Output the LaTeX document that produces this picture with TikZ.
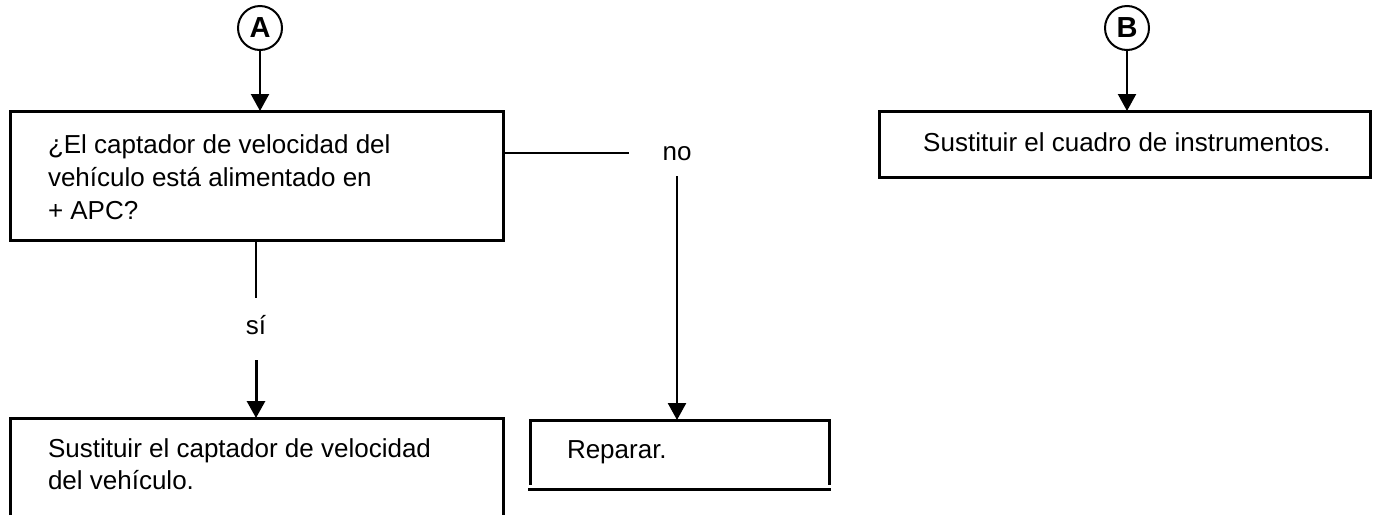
\documentclass[tikz,border=0pt]{standalone}
\usepackage{fontspec}
\setmainfont{Liberation Sans}
\usetikzlibrary{arrows.meta}
\begin{document}
\begin{tikzpicture}[x=1pt,y=-1pt,
  area/.style={rectangle,draw=none,inner sep=0pt,outer sep=0pt},
  frame/.style={line width=3pt,line join=miter},
  txt/.style={inner sep=0pt,outer sep=0pt,font=\fontsize{26}{31}\selectfont,anchor=base west},
  lbl/.style={txt,anchor=base},
  conn/.style={line width=2.6pt},
  arr/.style={conn,-{Triangle[width=18pt,length=17pt]}},
  refmark/.style={circle,draw,line width=2pt,minimum size=44pt,inner sep=0pt,
    font=\fontsize{29}{29}\selectfont\bfseries}]
  % canvas
  \fill[white] (0,0) rectangle (1378,515);
  \useasboundingbox (0,0) rectangle (1378,515);

  % entry marks
  \node[refmark] (A) at (260,28) {A};
  \node[refmark] (B) at (1127,28) {B};

  % box areas
  \node[area,minimum width=493pt,minimum height=129pt] (q) at (256.5,175.5) {};
  \node[area,minimum width=493pt,minimum height=97pt]  (s) at (256.5,466.5) {};
  \node[area,minimum width=299pt,minimum height=65pt]  (r) at (679.5,452.5) {};
  \node[area,minimum width=491pt,minimum height=66pt]  (b) at (1124.5,144) {};

  % box outlines
  \draw[frame] (q.north west) rectangle (q.south east);
  \draw[frame] (s.south west) -- (s.north west) -- (s.north east) -- (s.south east);
  \draw[frame] (r.south west) -- (r.north west) -- (r.north east) -- (r.south east);
  \draw[frame] ([shift={(-2,4)}]r.south west) -- ([shift={(2,4)}]r.south east);
  \draw[frame] (b.north west) rectangle (b.south east);

  % box texts
  \node[txt] (q1) at (48,153) {¿El captador de velocidad del};
  \node[txt] (q2) at (48,186) {vehículo está alimentado en};
  \node[txt] (q3) at (48,219) {+ APC?};
  \node[txt] (s1) at (48,457) {Sustituir el captador de velocidad};
  \node[txt] (s2) at (48,489) {del vehículo.};
  \node[txt] (r1) at (567,458) {Reparar.};
  \node[lbl] (b1) at (1127,151) {Sustituir el cuadro de instrumentos.};

  % branch labels
  \node[lbl] (nolbl) at (677,160) {no};
  \node[lbl] (silbl) at (256,334) {sí};

  % free ends of the branch lines
  \coordinate (noend) at (629,153);
  \coordinate (nostart) at (677,176);
  \coordinate (siend) at (256,298);
  \coordinate (sistart) at (256,360);

  % connectors
  \draw[arr,line width=2.2pt] (A.south) -- (A.south |- q.north);
  \draw[arr,line width=2.2pt] (B.south) -- (B.south |- b.north);
  \draw[conn] (q.east |- noend) -- (noend);
  \draw[arr] (nostart) -- (nostart |- r.north);
  \draw[conn] (siend |- q.south) -- (siend);
  \draw[arr,line width=3pt] (sistart) -- (sistart |- s.north);
\end{tikzpicture}
\end{document}
